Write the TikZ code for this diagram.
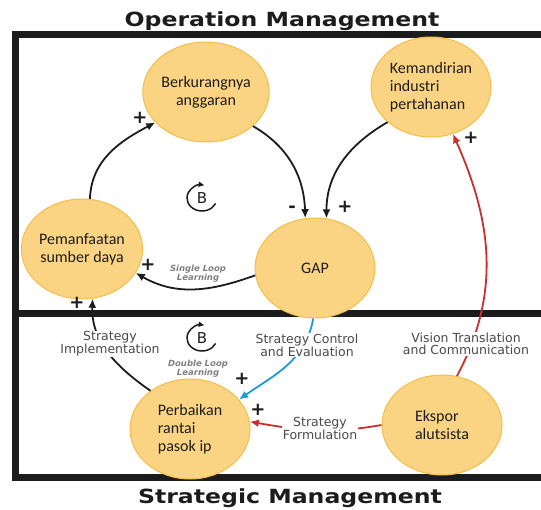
\documentclass[tikz,border=0pt]{standalone}
\usepackage{fontspec}
\setmainfont{Carlito}
\newfontfamily\lblfont{DejaVu Sans}
\usetikzlibrary{shapes,arrows.meta}
\definecolor{nodefill}{HTML}{FBD483}
\definecolor{nodeedge}{HTML}{F3BD48}
\definecolor{loopred}{HTML}{C8302E}
\definecolor{loopblue}{HTML}{1E9AD6}
\definecolor{lblgray}{HTML}{4A4A4A}
\definecolor{ink}{HTML}{1C1C1C}

\begin{document}
\begin{tikzpicture}[x=1pt,y=-1pt,>={Latex[length=9pt,width=8pt]}]
    \tikzstyle{factor} = [draw=nodeedge, fill=nodefill, shape=ellipse, minimum width=120pt, minimum height=100pt, inner sep=0pt, line width=1pt, align=center, text=ink, font=\fontsize{16}{18}\selectfont]
    \tikzstyle{lbl} = [fill=white, inner sep=1pt, align=center, text=lblgray, font=\lblfont\fontsize{12.5}{12}\selectfont]
    \tikzstyle{loopname} = [align=center, text=gray, font=\lblfont\bfseries\itshape\fontsize{8.5}{9}\selectfont]
    \tikzstyle{sign} = [inner sep=0pt, text=ink, font=\lblfont\bfseries\fontsize{18}{18}\selectfont]
    \tikzstyle{heading} = [anchor=base, text=ink, font=\lblfont\bfseries\fontsize{19.5}{20}\selectfont]
    \tikzstyle{loopsym} = [text=ink, font=\lblfont\fontsize{15}{15}\selectfont]
    \tikzstyle{frameline} = [draw=ink, line width=7pt]
    \useasboundingbox (0,0) rectangle (541,510);
    %Frame and headings
    \draw[frameline] (541,34.5) -| (15.5,477.5) -- (541,477.5);
    \draw[frameline] (15.5,313.5) -- (541,313.5);
    \node[heading] (opTitle) at (282,27) {\scalebox{1.21}[1]{Operation Management}};
    \node[heading] (stTitle) at (290,503) {\scalebox{1.21}[1]{Strategic Management}};
    %Creating Factors
    \node[factor] (berk) at (206,92) {Berkurangnya\\anggaran};
    \node[factor, align=left] (kem) at (431,87) {Kemandirian\\industri\\pertahanan};
    \node[factor] (pem) at (82,249) {Pemanfaatan\\sumber daya};
    \node[factor] (gap) at (315,268) {GAP};
    \node[factor, align=left] (perb) at (190,429) {Perbaikan\\rantai\\pasok ip};
    \node[factor, align=left] (eks) at (442,425) {Ekspor\\alutsista};
    %Loop symbols
    \node[loopsym] (loopB1) at (202,198) {B};
    \node[loopsym] (loopB2) at (202,338) {B};
    \foreach \b in {loopB1,loopB2}
        \draw[-{Latex[length=6pt,width=6pt]}, line width=1.5pt, draw=ink] ([shift={(-25:15pt and 13pt)}]\b.center) arc[start angle=-25, end angle=-280, x radius=15pt, y radius=13pt];
    %Connecting Factors
    \begin{scope}[line width=1.8pt]
        \draw[->, ink] (pem.81) to[out=88, in=208] (berk.211);
        \draw[->, ink] (berk.-36) to[out=-30, in=92] (gap.101);
        \draw[->, ink] (kem.219) to[out=210, in=90] (gap.77);
        \draw[->, ink] (gap.187) to[out=200, in=-30] (pem.-24);
        \draw[->, ink] (perb.136) to[out=145, in=-92] (pem.-78);
        \draw[->, loopblue] (gap.-92) to[out=-100, in=35] (perb.31);
        \draw[->, loopred] (eks.west) to[out=190, in=-10] (perb.7);
        \draw[->, loopred] (eks.73) to[out=62, in=-66] (kem.-65);
    \end{scope}
    %Link labels
    \node[lbl] (implLbl) at (110,344) {Strategy\\Implementation};
    \node[lbl] (ctrlLbl) at (307,345) {Strategy Control\\and Evaluation};
    \node[lbl] (visLbl) at (466,344) {Vision Translation\\and Communication};
    \node[lbl] (formLbl) at (320,428) {Strategy\\Formulation};
    \node[loopname] (singleLbl) at (198,274) {Single Loop\\Learning};
    \node[loopname] (doubleLbl) at (198,369) {Double Loop\\Learning};
    %Polarity signs
    \node[sign] (s1) at (140,118) {+};
    \node[sign] (s2) at (292,209) {-};
    \node[sign] (s3) at (345,207) {+};
    \node[sign] (s4) at (471,138) {+};
    \node[sign] (s5) at (148,265) {+};
    \node[sign] (s6) at (77,303) {+};
    \node[sign] (s7) at (242,379) {+};
    \node[sign] (s8) at (258,410) {+};
\end{tikzpicture}
\end{document}
